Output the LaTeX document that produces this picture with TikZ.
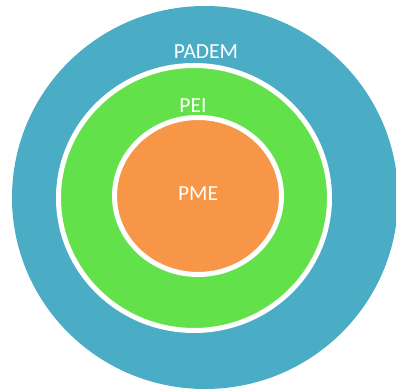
\documentclass[tikz,border=0pt]{standalone}
\usepackage{fontspec}
\setmainfont{Carlito}
\usetikzlibrary{shapes.geometric}
\definecolor{padem}{HTML}{4BACC6}
\definecolor{pei}{HTML}{62E14A}
\definecolor{pme}{HTML}{F79646}
\tikzset{
  ring/.style={ellipse, inner sep=0pt, draw=white, line width=5pt},
  lbl/.style={text=white, font=\fontsize{21.5}{25}\selectfont, inner sep=0pt}
}
\begin{document}
\begin{tikzpicture}[x=1pt,y=1pt]
\useasboundingbox (0,0) rectangle (396,390);
\begin{scope}
\clip (0,0) rectangle (396,390);
\node[ellipse, inner sep=0pt, fill=padem, minimum width=386pt, minimum height=383pt] (outer) at (205,192.5) {};
\end{scope}
\node[ring, fill=pei, minimum width=271pt, minimum height=265pt] (mid) at (194,192) {};
\node[ring, fill=pme, minimum width=167pt, minimum height=157pt] (inner) at (198,194) {};
\node[lbl] (tpadem) at (206,338) {PADEM};
\node[lbl] (tpei) at (193,284) {PEI};
\node[lbl] (tpme) at (198,196) {PME};
\end{tikzpicture}
\end{document}
